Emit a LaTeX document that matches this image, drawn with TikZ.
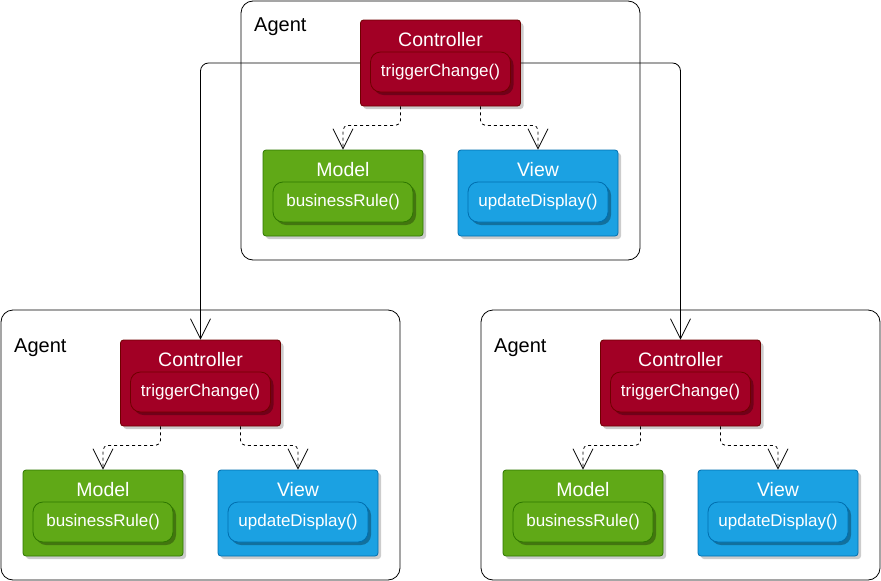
\documentclass[tikz,border=0pt]{standalone}
\usepackage{fontspec}
\setmainfont{Liberation Sans}
\usetikzlibrary{arrows.meta,shadows}
\definecolor{ctrlfill}{HTML}{A20025}
\definecolor{ctrlline}{HTML}{6F0000}
\definecolor{modfill}{HTML}{60A917}
\definecolor{modline}{HTML}{2D7600}
\definecolor{viewfill}{HTML}{1BA1E2}
\definecolor{viewline}{HTML}{006EAF}

\begin{document}
\begin{tikzpicture}[x=1pt,y=-1pt,
  agent/.style={draw=black,line width=0.8pt,rounded corners=12pt},
  agentname/.style={anchor=west,inner sep=0pt,font=\fontsize{20}{24}\selectfont},
  part/.style={draw=#1line,fill=#1fill,line width=0.8pt,rounded corners=3pt,
    minimum width=160pt,minimum height=86pt,inner sep=0pt,
    drop shadow={shadow xshift=3pt,shadow yshift=-3pt,opacity=0.2,fill=black}},
  partname/.style={text=white,inner sep=0pt,font=\fontsize{19.5}{23}\selectfont},
  op/.style={draw=#1line,fill=#1fill,line width=0.8pt,rounded corners=10pt,
    minimum width=140pt,minimum height=40pt,inner sep=0pt,text=white,
    font=\fontsize{17}{20}\selectfont,
    drop shadow={shadow xshift=3pt,shadow yshift=-3pt,opacity=0.3,fill=black}},
  dep/.style={draw=black,line width=0.8pt,dash pattern=on 3pt off 3pt,rounded corners=5pt,
    -{Straight Barb[length=20pt,width=20pt,line width=0.8pt]}},
  link/.style={draw=black,line width=0.8pt,rounded corners=8pt,
    -{Straight Barb[length=20pt,width=20pt,line width=0.8pt]}}]
\useasboundingbox (0,0) rectangle (881,581);
%\draw[step=20,lightgray,very thin] (0,0) grid (881,581);

% top agent
\draw[agent] (241,1) rectangle (640,260);
\node[agentname] at (254,27) {Agent};
\node[part=ctrl] (ctrlT) at (440.5,63) {};
\node[partname] at (440.5,40) {Controller};
\node[op=ctrl] (trigT) at (440.5,72) {triggerChange()};
\node[part=mod] (modT) at (343,193) {};
\node[partname] at (343,170) {Model};
\node[op=mod] (ruleT) at (343,202) {businessRule()};
\node[part=view] (viewT) at (538,193) {};
\node[partname] at (538,170) {View};
\node[op=view] (dispT) at (538,202) {updateDisplay()};
\draw[dep] ([xshift=-40pt]ctrlT.south) -- ++(0,19) -| (modT.north);
\draw[dep] ([xshift=40pt]ctrlT.south) -- ++(0,19) -| (viewT.north);

% left agent
\draw[agent] (1,310) rectangle (400,580);
\node[agentname] at (14,348) {Agent};
\node[part=ctrl] (ctrlL) at (200.5,383) {};
\node[partname] at (200.5,360) {Controller};
\node[op=ctrl] (trigL) at (200.5,392) {triggerChange()};
\node[part=mod] (modL) at (103,513) {};
\node[partname] at (103,490) {Model};
\node[op=mod] (ruleL) at (103,522) {businessRule()};
\node[part=view] (viewL) at (298,513) {};
\node[partname] at (298,490) {View};
\node[op=view] (dispL) at (298,522) {updateDisplay()};
\draw[dep] ([xshift=-40pt]ctrlL.south) -- ++(0,19) -| (modL.north);
\draw[dep] ([xshift=40pt]ctrlL.south) -- ++(0,19) -| (viewL.north);

% right agent
\draw[agent] (481,310) rectangle (880,580);
\node[agentname] at (494,348) {Agent};
\node[part=ctrl] (ctrlR) at (680.5,383) {};
\node[partname] at (680.5,360) {Controller};
\node[op=ctrl] (trigR) at (680.5,392) {triggerChange()};
\node[part=mod] (modR) at (583,513) {};
\node[partname] at (583,490) {Model};
\node[op=mod] (ruleR) at (583,522) {businessRule()};
\node[part=view] (viewR) at (778,513) {};
\node[partname] at (778,490) {View};
\node[op=view] (dispR) at (778,522) {updateDisplay()};
\draw[dep] ([xshift=-40pt]ctrlR.south) -- ++(0,19) -| (modR.north);
\draw[dep] ([xshift=40pt]ctrlR.south) -- ++(0,19) -| (viewR.north);

% links between agents
\draw[link] (ctrlT.west) -| (ctrlL.north);
\draw[link] (ctrlT.east) -| (ctrlR.north);
\end{tikzpicture}
\end{document}
